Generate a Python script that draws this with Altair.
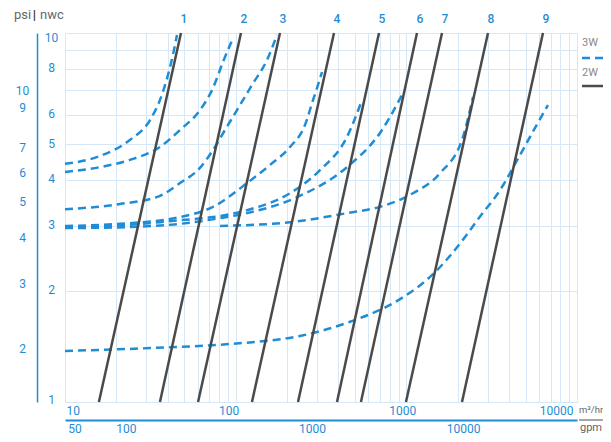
import altair as alt
import pandas as pd

BLUE = "#1f8dd6"
GRAY = "#4a4a4a"
GRID = "#d6e8f7"
FONT = "Roboto"

# ---- 2W lines (flow m3/hr at 1 nwc and at 10 nwc) ----
line_ids = ["1", "2", "3", "4", "5", "6", "7", "8", "9"]
line_q_low = [15.8, 36.0, 60.2, 124.6, 231.9, 392.5, 542.0, 995.0, 2119.0]
line_q_high = [47.8, 107.4, 181.8, 376.9, 691.6, 1154.7, 1618.0, 3010.0, 6319.0]
line_p_low = 1
line_p_high = 10

# ---- 3W curves ----
curve_a_q = [10, 16.0, 24.0, 31.5, 36.0, 40.1, 43.5, 45.3]
curve_a_p = [4.42, 4.64, 5.13, 5.81, 6.58, 7.69, 8.99, 9.88]
curve_b_q = [10, 16.0, 24.0, 36.0, 47.2, 61.8, 73.7, 84.3, 96.5]
curve_b_p = [4.20, 4.33, 4.53, 4.91, 5.46, 6.18, 7.10, 8.35, 9.69]
curve_c_q = [10, 21.0, 36.0, 47.2, 61.8, 73.7, 86.6, 101.8, 124.6, 152.6, 174.7]
curve_c_p = [3.33, 3.44, 3.62, 3.92, 4.31, 4.82, 5.46, 6.18, 7.23, 8.45, 9.88]
curve_d_q = [10, 21.0, 47.2, 73.7, 116.6, 158.9, 208.2, 254.8, 283.9, 303.7, 320.6]
curve_d_p = [3.00, 3.04, 3.17, 3.38, 3.92, 4.39, 4.91, 5.63, 6.58, 7.23, 7.84]
curve_e_q = [10, 24.0, 47.2, 73.7, 116.6, 208.2, 312.0, 449.1, 549.8]
curve_e_p = [2.98, 3.02, 3.11, 3.17, 3.31, 3.68, 4.25, 5.23, 6.58]
curve_f_q = [10, 24.0, 47.2, 81.0, 116.6, 228.8, 449.1, 701.1, 943.3]
curve_f_p = [2.96, 2.98, 3.04, 3.15, 3.25, 3.59, 4.33, 5.36, 6.79]
curve_g_q = [81.0, 208.2, 449.1, 701.1, 1094, 1575, 2148, 2459]
curve_g_p = [3.00, 3.07, 3.25, 3.38, 3.68, 4.17, 5.23, 6.71]
curve_h_q = [10, 31.5, 92.6, 238.3, 467.7, 918.2, 1433, 2207, 2630, 3539, 4634, 5675, 6761]
curve_h_p = [1.375, 1.40, 1.436, 1.51, 1.65, 1.90, 2.22, 2.80, 3.13, 3.75, 4.67, 5.53, 6.38]

# ---- axes ----
x_grid = [m * 10 ** e for e in (1, 2, 3) for m in range(1, 10)] + [10000]
y_grid = list(range(1, 11))
x_labels = [10, 100, 1000, 10000]
y_labels = [1, 2, 3, 4, 5, 6, 8, 10]
psi_ticks = [2, 3, 4, 5, 6, 7, 9, 10]
psi_domain = [1.43, 14.3]
gpm_ticks = [50, 100, 1000, 10000]
gpm_domain = [44.03, 44030]

# ---- tables ----
lines_rows = []
for lid, ql, qh in zip(line_ids, line_q_low, line_q_high):
    lines_rows.append({"id": lid, "Q": ql, "p": line_p_low})
    lines_rows.append({"id": lid, "Q": qh, "p": line_p_high})
lines_df = pd.DataFrame(lines_rows)
tops_df = pd.DataFrame({"id": line_ids, "Q": line_q_high})

curves = {
    "a": (curve_a_q, curve_a_p), "b": (curve_b_q, curve_b_p),
    "c": (curve_c_q, curve_c_p), "d": (curve_d_q, curve_d_p),
    "e": (curve_e_q, curve_e_p), "f": (curve_f_q, curve_f_p),
    "g": (curve_g_q, curve_g_p), "h": (curve_h_q, curve_h_p),
}
crow = []
for name, (qs, ps) in curves.items():
    for i, (q, p) in enumerate(zip(qs, ps)):
        crow.append({"curve": name, "i": i, "Q": q, "p": p})
curves_df = pd.DataFrame(crow)

x_axis = alt.Axis(
    values=x_grid, grid=True, gridColor=GRID, gridWidth=1, domain=False,
    ticks=False, tickSize=0, title=None, labelOverlap=False, labelFlush=False,
    labelExpr=f"indexof({x_labels}, datum.value) >= 0 ? '' + datum.value : ''",
    labelColor=BLUE, labelFont=FONT, labelFontSize=12, labelPadding=3,
    labelAlign={"condition": [{"test": "datum.value <= 10", "value": "left"},
                              {"test": "datum.value >= 10000", "value": "right"}],
                "value": "center"},
    labelOffset={"condition": [{"test": "datum.value <= 10", "value": 1},
                               {"test": "datum.value == 100", "value": -7}],
                 "value": -4},
)
y_axis = alt.Axis(
    values=y_grid, grid=True, gridColor=GRID, gridWidth=1, domain=False,
    ticks=False, tickSize=0, title=None, labelOverlap=False,
    labelExpr=f"indexof({y_labels}, datum.value) >= 0 ? '' + datum.value : ''",
    labelColor=BLUE, labelFont=FONT, labelFontSize=12, labelPadding=14,
    labelAlign="center", labelBaseline="middle",
    labelOffset={"condition": [{"test": "datum.value >= 10", "value": 4},
                               {"test": "datum.value <= 1", "value": -3}],
                 "value": -1},
)

xs = alt.Scale(type="log", domain=[10, 10000], nice=False)
ys = alt.Scale(type="log", domain=[1, 10], nice=False)
X = alt.X("Q:Q", scale=xs, axis=x_axis)
Y = alt.Y("p:Q", scale=ys, axis=y_axis)

blue_curves = alt.Chart(curves_df).mark_line(
    color=BLUE, strokeWidth=2.5, strokeDash=[8, 5], interpolate="monotone"
).encode(x=X, y=Y, detail="curve:N", order="i:Q")

gray_lines = alt.Chart(lines_df).mark_line(color=GRAY, strokeWidth=2.5).encode(
    x=X, y=Y, detail="id:N"
)

top_labels = alt.Chart(tops_df).mark_text(
    color=BLUE, fontSize=12, font=FONT, fontWeight=500, dx=3, baseline="middle"
).encode(x=X, y=alt.value(-14), text="id:N")

one = alt.Data(values=[{}])


def txt(s, x, y, color="#666666", size=12, align="left", weight="normal"):
    return alt.Chart(one).mark_text(
        text=s, align=align, baseline="middle", color=color, fontSize=size,
        font=FONT, fontWeight=weight
    ).encode(x=alt.value(x), y=alt.value(y))


def hline(x1, x2, y, color, width, dash=None):
    kw = dict(color=color, strokeWidth=width)
    if dash is not None:
        kw["strokeDash"] = dash
    return alt.Chart(one).mark_rule(**kw).encode(
        x=alt.value(x1), x2=alt.value(x2), y=alt.value(y)
    )


annotations = [
    txt("psi", -51, -18, size=13),
    txt("|", -30.5, -18, color="#333333", size=13, align="center", weight="bold"),
    txt("nwc", -25, -18, size=13),
    txt("3W", 517, 10, color="#888888", size=11),
    hline(517, 548, 25, BLUE, 2.5, [8, 5]),
    txt("2W", 517, 40, color="#888888", size=11),
    hline(517, 548, 53, GRAY, 2.5),
    txt("m³/hr", 514, 377, size=9.5),
    hline(514, 548, 387, "#8a8a8a", 1.5),
    txt("gpm", 515, 395, size=11),
]

main = alt.layer(blue_curves, gray_lines, top_labels, *annotations)

psi_layer = alt.Chart(pd.DataFrame({"psi": psi_ticks})).mark_point(opacity=0).encode(
    y=alt.Y("psi:Q", scale=alt.Scale(type="log", domain=psi_domain, nice=False),
            axis=alt.Axis(values=psi_ticks, orient="left", offset=28, grid=False,
                          domain=True, domainColor=BLUE, domainWidth=1.5,
                          ticks=False, tickSize=0, title=None, labelOverlap=False,
                          labelColor=BLUE, labelFont=FONT, labelFontSize=12,
                          labelPadding=15, labelAlign="center",
                          labelBaseline="middle", format="d"))
)

gpm_layer = alt.Chart(pd.DataFrame({"gpm": gpm_ticks})).mark_point(opacity=0).encode(
    x=alt.X("gpm:Q", scale=alt.Scale(type="log", domain=gpm_domain, nice=False),
            axis=alt.Axis(values=gpm_ticks, orient="bottom", offset=18, grid=False,
                          domain=True, domainColor=BLUE, domainWidth=2,
                          ticks=False, tickSize=0, title=None, labelOverlap=False,
                          labelFlush=False, labelColor=BLUE, labelFont=FONT,
                          labelFontSize=12, labelPadding=3, format="d",
                          labelAlign={"condition": {"test": "datum.value == 1000",
                                                    "value": "left"},
                                      "value": "center"},
                          labelOffset={"condition": [
                              {"test": "datum.value == 1000", "value": 2},
                              {"test": "datum.value >= 10000", "value": -4}],
                              "value": 0}))
)

chart = alt.layer(main, psi_layer, gpm_layer).resolve_scale(
    x="independent", y="independent"
).properties(
    width=512, height=369,
    autosize=alt.AutoSizeParams(type="none"),
    padding={"left": 57, "top": 25, "right": 26, "bottom": 32},
).configure_view(stroke=None)

chart.save("out.html", embed_options={"renderer": "svg", "actions": False})
